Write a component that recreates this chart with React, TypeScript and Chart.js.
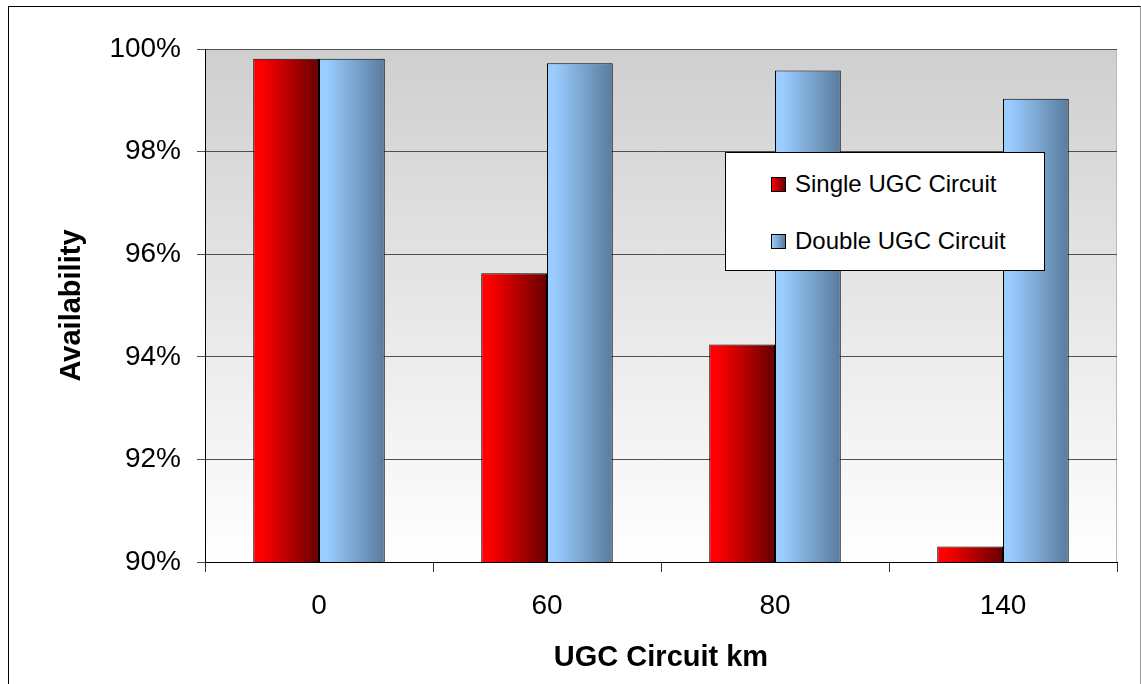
import React, { useEffect, useRef } from "react";
import { Chart, registerables } from "chart.js";

Chart.register(...registerables);

const categories = ["0", "60", "80", "140"];
const seriesNames = ["Single UGC Circuit", "Double UGC Circuit"];
const singleValues = [99.81, 95.63, 94.24, 90.3];
const doubleValues = [99.81, 99.72, 99.58, 99.03];
const yTickMin = 90;
const yTickMax = 100;
const yTickStep = 2;
const xTitle = "UGC Circuit km";
const yTitle = "Availability";

const FONT = 'Arial, "Liberation Sans", sans-serif';
const CATEGORY_PCT = 0.577;
const redStops = ["#ff0000", "#660000"];
const blueStops = ["#99ccff", "#5a7b9c"];

function barGradient(dsIndex: number, stops: string[], nDatasets: number) {
  return (ctx: any) => {
    const chart = ctx.chart;
    const x = chart.scales && chart.scales.x;
    if (!x || ctx.type !== "data") return stops[0];
    const n = chart.data.labels.length;
    const catW = (x.right - x.left) / n;
    const center = x.getPixelForValue(ctx.dataIndex);
    const groupW = catW * CATEGORY_PCT;
    const barW = groupW / nDatasets;
    const left = center - groupW / 2 + dsIndex * barW;
    if (!isFinite(left) || !isFinite(barW) || barW <= 0) return stops[0];
    const g = chart.ctx.createLinearGradient(left, 0, left + barW, 0);
    g.addColorStop(0, stops[0]);
    g.addColorStop(0.12, stops[0]);
    g.addColorStop(1, stops[1]);
    return g;
  };
}

const plotBg = {
  id: "plotBg",
  beforeDraw(chart: any) {
    const { ctx, chartArea } = chart;
    if (!chartArea) return;
    const g = ctx.createLinearGradient(0, chartArea.top, 0, chartArea.bottom);
    g.addColorStop(0, "#cfcfcf");
    g.addColorStop(1, "#ffffff");
    ctx.save();
    ctx.fillStyle = g;
    ctx.fillRect(chartArea.left, chartArea.top, chartArea.right - chartArea.left, chartArea.bottom - chartArea.top);
    ctx.strokeStyle = "#b8b8b8";
    ctx.lineWidth = 1;
    ctx.beginPath();
    ctx.moveTo(Math.round(chartArea.right) - 0.5, chartArea.top);
    ctx.lineTo(Math.round(chartArea.right) - 0.5, chartArea.bottom);
    ctx.stroke();
    ctx.restore();
  },
};

export default function App() {
  const canvasRef = useRef<HTMLCanvasElement | null>(null);

  useEffect(() => {
    if (!canvasRef.current) return;
    const chart = new Chart(canvasRef.current, {
      type: "bar",
      data: {
        labels: categories,
        datasets: [
          {
            label: seriesNames[0],
            data: singleValues,
            backgroundColor: barGradient(0, redStops, 2),
            borderColor: "#000000",
            borderWidth: 1,
            categoryPercentage: CATEGORY_PCT,
            barPercentage: 1,
          },
          {
            label: seriesNames[1],
            data: doubleValues,
            backgroundColor: barGradient(1, blueStops, 2),
            borderColor: "#000000",
            borderWidth: 1,
            categoryPercentage: CATEGORY_PCT,
            barPercentage: 1,
          },
        ],
      },
      options: {
        responsive: false,
        animation: false,
        devicePixelRatio: 1,
        layout: { padding: { left: 0, top: 49, right: 24, bottom: 0 } },
        plugins: {
          legend: { display: false },
          tooltip: { enabled: false },
        },
        scales: {
          x: {
            grid: {
              offset: true,
              drawOnChartArea: false,
              drawTicks: true,
              tickLength: 10,
              color: "#333333",
            },
            border: { display: true, color: "#000000", width: 1 },
            ticks: {
              color: "#000000",
              font: { family: FONT, size: 28 },
              padding: 17,
            },
            title: {
              display: true,
              text: xTitle,
              color: "#000000",
              font: { family: FONT, size: 29, weight: "bold" },
              padding: { top: 0, bottom: 9 },
            },
            afterFit(scale: any) {
              scale.height = 122;
            },
          },
          y: {
            min: yTickMin,
            max: yTickMax,
            grid: {
              color: "#505050",
              tickLength: 8,
              drawTicks: true,
            },
            border: { display: true, color: "#000000", width: 1 },
            ticks: {
              stepSize: yTickStep,
              color: "#000000",
              font: { family: FONT, size: 28 },
              padding: 16,
              callback: (v: any) => `${v}%`,
            },
            title: {
              display: true,
              text: yTitle,
              color: "#000000",
              font: { family: FONT, size: 29, weight: "bold" },
              padding: { top: 55, bottom: 0 },
            },
            afterFit(scale: any) {
              scale.width = 205;
            },
          },
        },
      },
      plugins: [plotBg],
    });
    return () => chart.destroy();
  }, []);

  const legendColors = [
    `linear-gradient(to right, ${redStops[0]}, ${redStops[1]})`,
    `linear-gradient(to right, ${blueStops[0]}, ${blueStops[1]})`,
  ];

  return (
    <div style={{ position: "fixed", left: 0, top: 0, width: 1141, height: 684, background: "#ffffff", overflow: "hidden" }}>
      <canvas ref={canvasRef} width={1141} height={684} style={{ position: "absolute", left: 0, top: 0 }} />
      <div
        style={{
          position: "absolute",
          left: 8,
          top: 6,
          width: 1133,
          height: 720,
          borderTop: "1px solid #000",
          borderLeft: "1px solid #000",
          borderRight: "1px solid #999",
          boxSizing: "border-box",
          pointerEvents: "none",
        }}
      />
      <div
        style={{
          position: "absolute",
          left: 725,
          top: 152,
          width: 320,
          height: 119,
          boxSizing: "border-box",
          border: "1px solid #000",
          background: "#ffffff",
          fontFamily: FONT,
          fontSize: 24,
          color: "#000",
        }}
      >
        {seriesNames.map((name, i) => (
          <div
            key={name}
            style={{
              position: "absolute",
              left: 45,
              top: i === 0 ? 14 : 71,
              height: 34,
              display: "flex",
              alignItems: "center",
              whiteSpace: "nowrap",
            }}
          >
            <span
              style={{
                display: "inline-block",
                width: 15,
                height: 15,
                boxSizing: "border-box",
                border: "1px solid #000",
                background: legendColors[i],
                marginRight: 9,
              }}
            />
            <span>{name}</span>
          </div>
        ))}
      </div>
    </div>
  );
}
